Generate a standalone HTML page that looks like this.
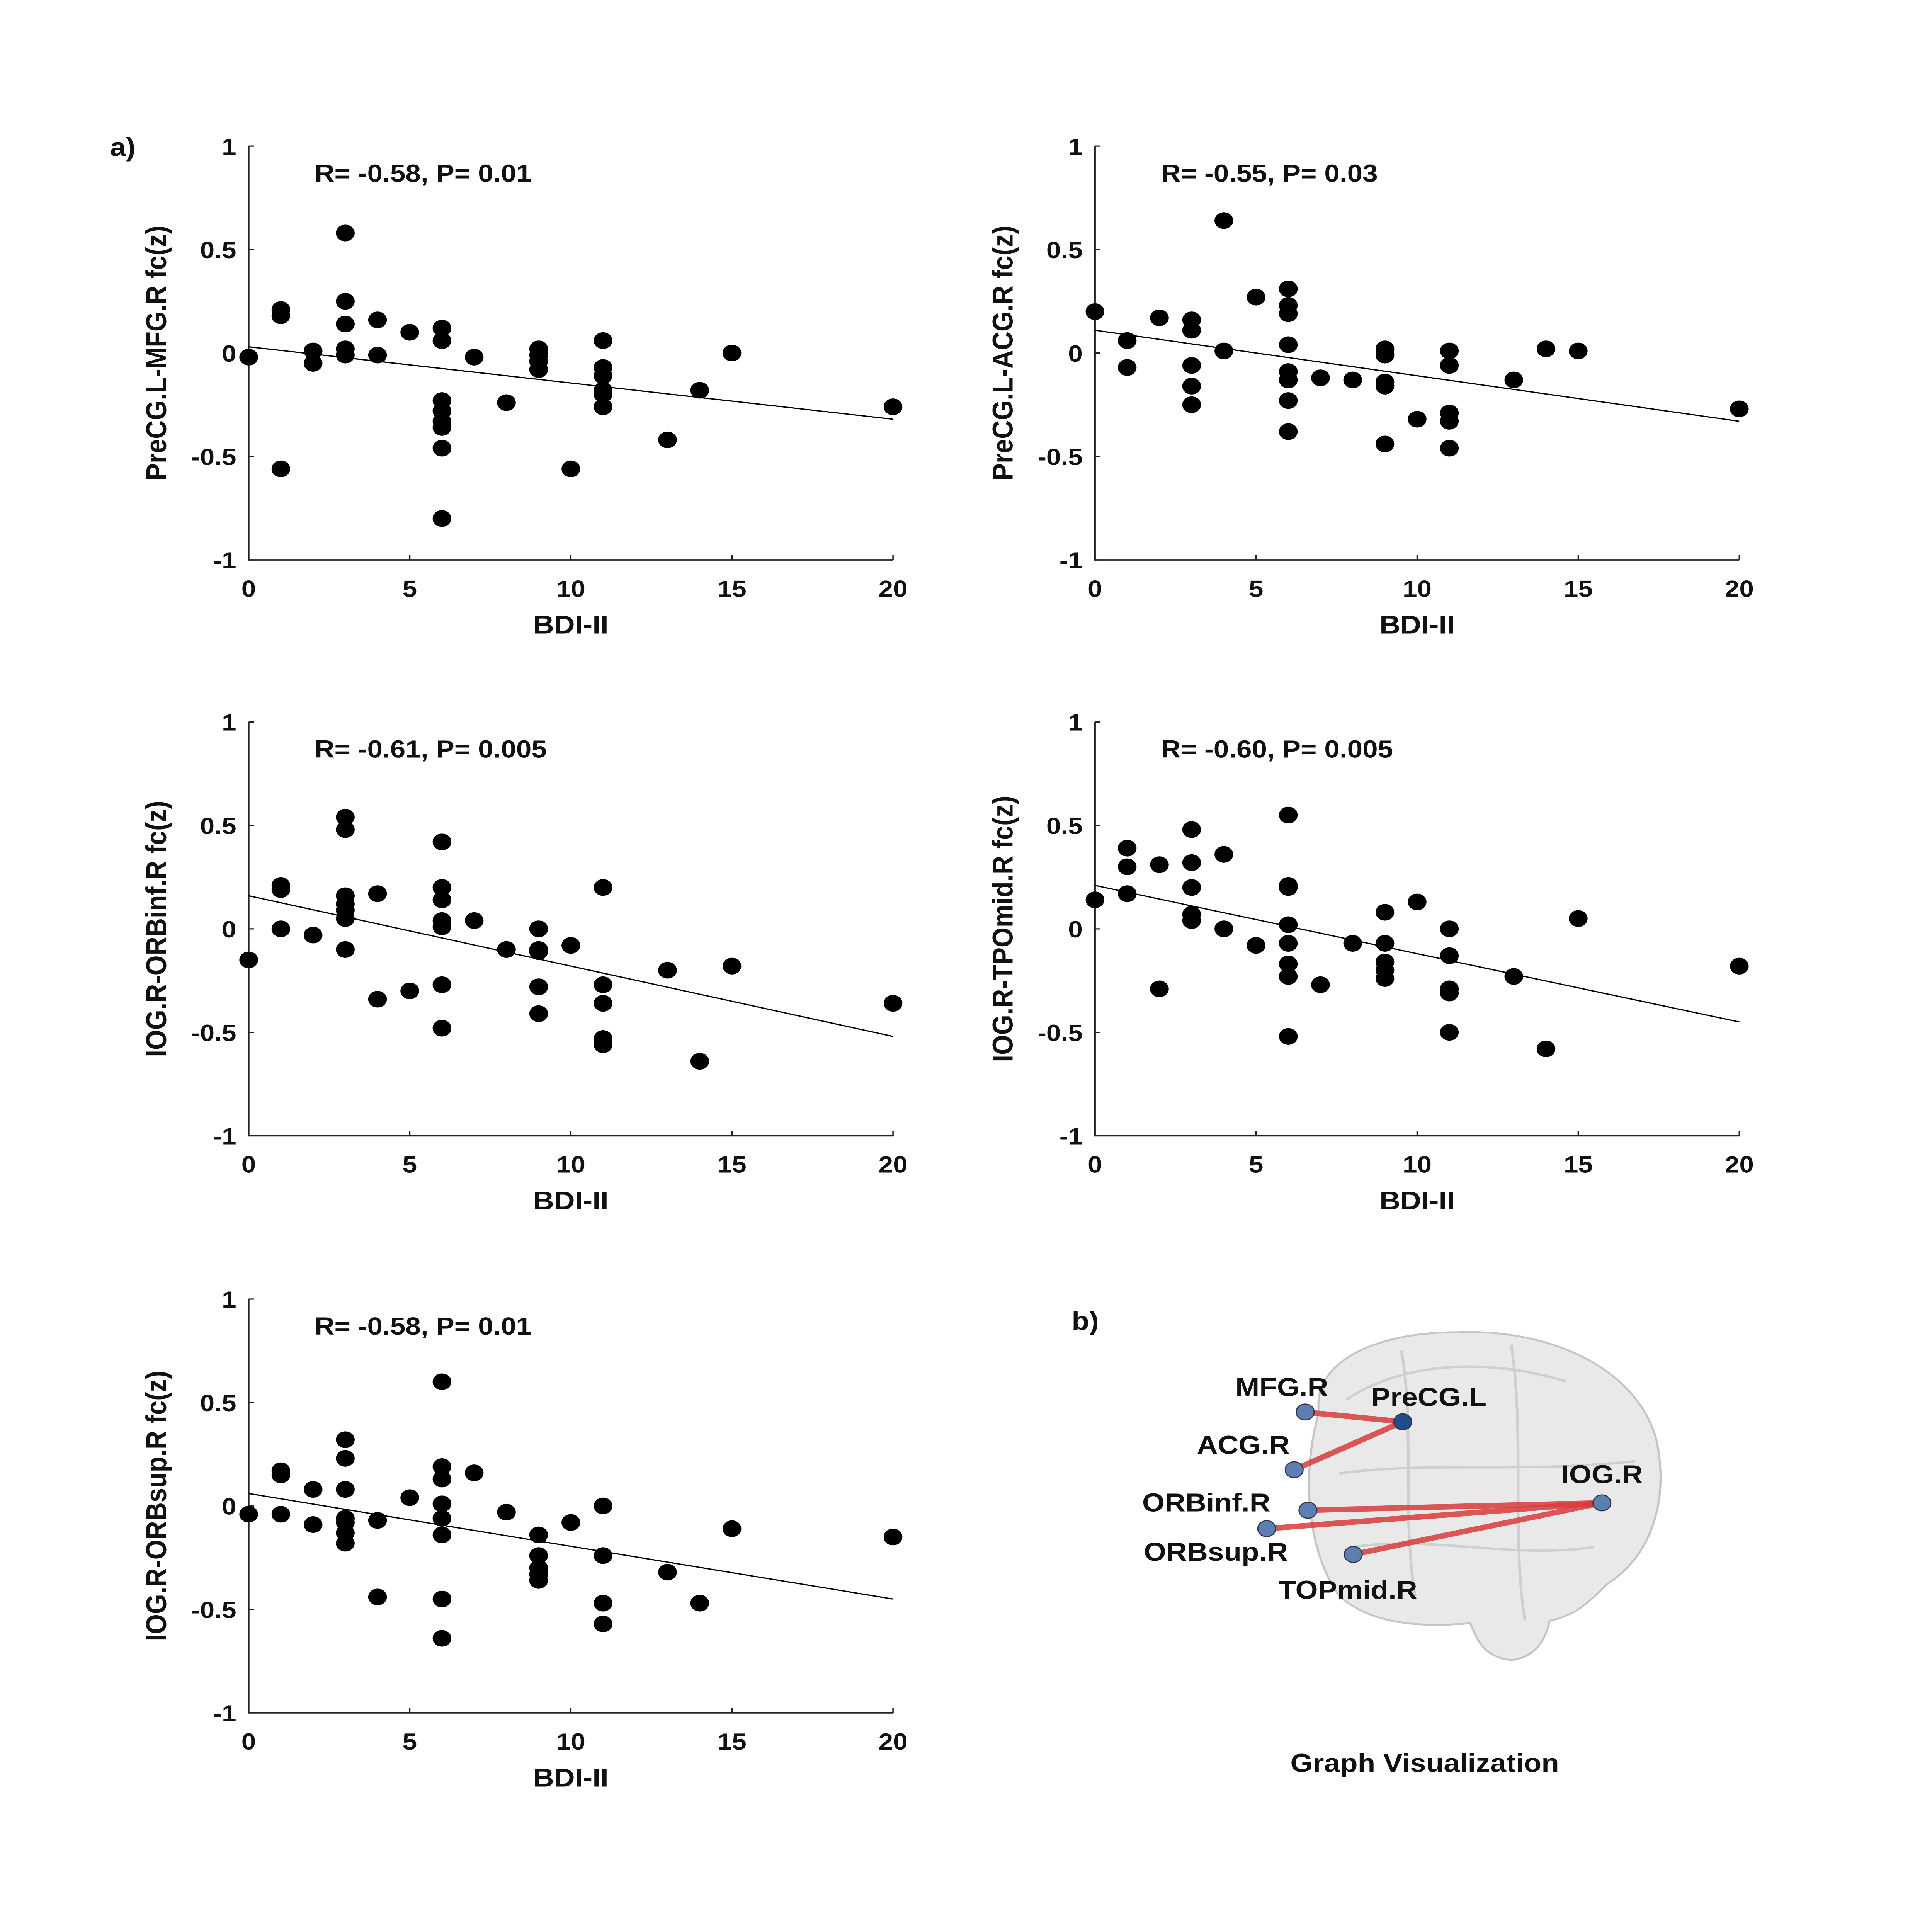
<!DOCTYPE html>
<html><head><meta charset="utf-8"><style>
html,body{margin:0;padding:0;background:#fff;width:100%;height:100%;overflow:hidden}
svg{display:block;width:100vw;height:100vh}
text{font-family:"Liberation Sans",Arial,sans-serif;font-weight:bold;fill:#111}
</style></head><body>
<svg id="fig" viewBox="0 0 1406.25 1573.5" preserveAspectRatio="none" xmlns="http://www.w3.org/2000/svg">
<rect width="1406.25" height="1573.5" fill="#fff"/>
<text x="80" y="127" font-size="21">a)</text>
<text x="780" y="1083" font-size="21">b)</text>
<g id="brain">
  <path d="M960,1150 C955,1110 1000,1085 1060,1085 C1130,1082 1190,1115 1205,1170 C1215,1215 1205,1265 1170,1290 C1160,1300 1150,1315 1128,1320 C1125,1335 1118,1350 1100,1352 C1080,1350 1075,1335 1070,1322 C1040,1325 1000,1325 975,1300 C955,1270 945,1210 960,1150 Z" fill="#e6e6e6" stroke="#bbb" stroke-width="1.5" opacity="0.85"/>
  <path d="M980,1140 C1020,1110 1080,1105 1140,1125 M975,1200 C1040,1190 1110,1200 1190,1190 M985,1260 C1040,1250 1100,1270 1160,1260 M1020,1100 C1030,1160 1020,1230 1030,1300 M1100,1095 C1110,1170 1100,1250 1110,1320" fill="none" stroke="#cfcfcf" stroke-width="2"/>
</g>
<g id="charts"></g>
<text x="1037" y="1443" font-size="21" text-anchor="middle">Graph Visualization</text>
</svg>
<script>
const NS="http://www.w3.org/2000/svg";
const bdi1=[0,1,1,1,2,2,3,3,3,3,3,4,4,5,6,6,6,6,6,6,6,6,7,8,9,9,9,9,10,11,11,11,11,11,11,13,14,15,20];
const fc1=[-0.02,0.21,0.18,-0.56,0.01,-0.05,0.58,0.25,0.14,0.02,-0.01,0.16,-0.01,0.1,0.12,0.06,-0.23,-0.28,-0.33,-0.36,-0.46,-0.8,-0.02,-0.24,0.02,-0.01,-0.04,-0.08,-0.56,0.06,-0.07,-0.11,-0.18,-0.2,-0.26,-0.42,-0.18,0,-0.26];
const fit1=[0.03,-0.32];
const bdi2=[0,1,1,2,3,3,3,3,3,4,4,5,6,6,6,6,6,6,6,6,7,8,9,9,9,9,9,10,11,11,11,11,11,13,14,15,20];
const fc2=[0.2,0.06,-0.07,0.17,0.16,0.11,-0.06,-0.16,-0.25,0.64,0.01,0.27,0.31,0.23,0.19,0.04,-0.09,-0.13,-0.23,-0.38,-0.12,-0.13,0.02,-0.01,-0.14,-0.16,-0.44,-0.32,0.01,-0.06,-0.29,-0.33,-0.46,-0.13,0.02,0.01,-0.27];
const fit2=[0.11,-0.33];
const bdi3=[0,1,1,1,2,3,3,3,3,3,3,3,4,4,5,6,6,6,6,6,6,6,7,8,9,9,9,9,9,10,11,11,11,11,11,13,14,15,20];
const fc3=[-0.15,0.21,0.19,0,-0.03,0.54,0.48,0.16,0.12,0.09,0.05,-0.1,0.17,-0.34,-0.3,0.42,0.2,0.14,0.04,0.01,-0.27,-0.48,0.04,-0.1,0,-0.1,-0.11,-0.28,-0.41,-0.08,0.2,-0.27,-0.36,-0.53,-0.56,-0.2,-0.64,-0.18,-0.36];
const fit3=[0.16,-0.52];
const bdi4=[0,1,1,1,2,2,3,3,3,3,3,4,4,5,6,6,6,6,6,6,6,6,7,8,9,9,9,9,9,10,11,11,11,11,11,13,14,15,20];
const fc4=[0.14,0.39,0.3,0.17,0.31,-0.29,0.48,0.32,0.2,0.07,0.04,0.36,0,-0.08,0.55,0.21,0.2,0.02,-0.07,-0.17,-0.23,-0.52,-0.27,-0.07,0.08,-0.07,-0.16,-0.2,-0.24,0.13,0,-0.13,-0.29,-0.31,-0.5,-0.23,-0.58,0.05,-0.18];
const fit4=[0.21,-0.45];
const bdi5=[0,1,1,1,2,2,3,3,3,3,3,3,3,4,4,5,6,6,6,6,6,6,6,6,7,8,9,9,9,9,9,10,11,11,11,11,13,14,15,20];
const fc5=[-0.04,0.17,0.15,-0.04,0.08,-0.09,0.32,0.23,0.08,-0.06,-0.08,-0.13,-0.18,-0.07,-0.44,0.04,0.6,0.19,0.13,0.01,-0.06,-0.14,-0.45,-0.64,0.16,-0.03,-0.14,-0.24,-0.3,-0.33,-0.36,-0.08,0,-0.24,-0.47,-0.57,-0.32,-0.47,-0.11,-0.15];
const fit5=[0.06,-0.45];
const xTicks=[0,5,10,15,20];
const yTicks=[-1,-0.5,0,0.5,1];
const yTickLabels=["-1","-0.5","0","0.5","1"];
const ylabels=["PreCG.L-MFG.R fc(z)","PreCG.L-ACG.R fc(z)","IOG.R-ORBinf.R fc(z)","IOG.R-TPOmid.R fc(z)","IOG.R-ORBsup.R fc(z)"];
const stats=["R= -0.58, P= 0.01","R= -0.55, P= 0.03","R= -0.61, P= 0.005","R= -0.60, P= 0.005","R= -0.58, P= 0.01"];
const panels=[[181,119,bdi1,fc1,fit1],[797,119,bdi2,fc2,fit2],[181,588,bdi3,fc3,fit3],[797,588,bdi4,fc4,fit4],[181,1058,bdi5,fc5,fit5]];
const W=469,H=337;
const root=document.getElementById('charts');
function mk(t,a,p){const e=document.createElementNS(NS,t);for(const k in a)e.setAttribute(k,a[k]);(p||root).appendChild(e);return e;}
panels.forEach((pp,i)=>{
  const [x0,y0,xs,ys,fit]=pp;
  const g=mk('g',{});
  
  
  const sx=v=>x0+v/20*W, sy=v=>y0+(1-v)/2*H;
  const ax=mk('path',{d:`M${x0},${y0}V${y0+H}H${x0+W}`,fill:'none',stroke:'#222','stroke-width':1.2},g);
  
  
  xTicks.forEach(t=>{
    mk('line',{x1:sx(t),x2:sx(t),y1:y0+H,y2:y0+H-4,stroke:'#222'},g);
    const tx=mk('text',{x:sx(t),y:y0+H+30,'font-size':19,'text-anchor':'middle'},g);tx.textContent=t;
    
    
  });
  yTicks.forEach((t,j)=>{
    mk('line',{x1:x0,x2:x0+4,y1:sy(t),y2:sy(t),stroke:'#222'},g);
    const tx=mk('text',{x:x0-9,y:sy(t)+7,'font-size':19,'text-anchor':'end'},g);tx.textContent=yTickLabels[j];
    
    
  });
  const xl=mk('text',{x:x0+W/2,y:y0+H+60,'font-size':21,'text-anchor':'middle'},g);xl.textContent='BDI-II';
  
  
  const yl=mk('text',{x:0,y:0,'font-size':21,'text-anchor':'middle',transform:`translate(${x0-60},${y0+H/2}) rotate(-90)`},g);yl.textContent=ylabels[i];
  
  
  const st=mk('text',{x:x0+48,y:y0+29,'font-size':20},g);st.textContent=stats[i];
  
  
  xs.forEach((v,k)=>{
    const c=mk('circle',{cx:sx(v),cy:sy(ys[k]),r:6.8,fill:'#000'},g);
    
    
  });
  const fl=mk('line',{x1:sx(0),y1:sy(fit[0]),x2:sx(20),y2:sy(fit[1]),stroke:'#000','stroke-width':1},g);
  
  
});
const nodes={"MFG.R":[950,1150],"PreCG.L":[1021,1158],"ACG.R":[942,1197],"ORBinf.R":[952,1230],"ORBsup.R":[922,1245],"TOPmid.R":[985,1266],"IOG.R":[1166,1224]};
const edges=[["MFG.R","PreCG.L"],["ACG.R","PreCG.L"],["ORBinf.R","IOG.R"],["ORBsup.R","IOG.R"],["TOPmid.R","IOG.R"]];
const labelPos={"MFG.R":[933,1137],"PreCG.L":[1040,1145],"ACG.R":[905,1184],"ORBinf.R":[878,1231],"ORBsup.R":[885,1271],"TOPmid.R":[981,1302],"IOG.R":[1166,1208]};
const bg=document.getElementById('brain');
edges.forEach(e=>{
  const a=nodes[e[0]],b=nodes[e[1]];
  const l=mk('line',{x1:a[0],y1:a[1],x2:b[0],y2:b[1],stroke:'#d83c3c','stroke-width':4.5,opacity:0.85},bg);
  
  
});
for(const n in nodes){
  const c=mk('circle',{cx:nodes[n][0],cy:nodes[n][1],r:6.5,fill:n==="PreCG.L"?'#1f4e8c':'#5b7fb0',stroke:'#334',"stroke-width":0.8},bg);
  
  
  const t=mk('text',{x:labelPos[n][0],y:labelPos[n][1],'font-size':21,'text-anchor':'middle'},bg);t.textContent=n;
  
  
}
</script>
</body></html>
